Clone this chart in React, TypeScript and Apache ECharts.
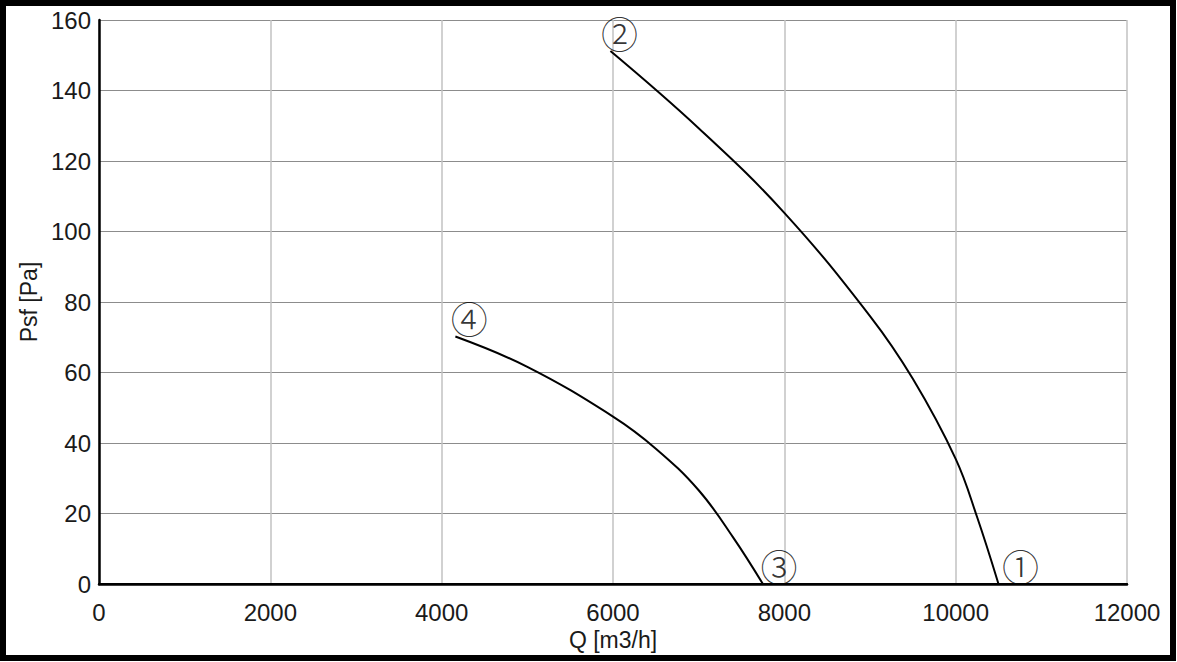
import React, { useEffect, useRef } from "react";
import * as echarts from "echarts";

// Fan curves: [Q m3/h, Psf Pa]
const curveHigh: [number, number][] = [
  [5970, 151.2],
  [7000, 129.3],
  [8000, 105.3],
  [9000, 76.0],
  [9500, 58.2],
  [10000, 35.5],
  [10250, 19.0],
  [10500, 0],
];

const curveLow: [number, number][] = [
  [4160, 70.2],
  [5000, 61.6],
  [6000, 47.5],
  [6500, 38.4],
  [7000, 26.6],
  [7400, 13.3],
  [7750, 0],
];

const markerNames = ["①", "②", "③", "④"];

const xTicks = { min: 0, max: 12000, interval: 2000 };
const yTicks = { min: 0, max: 160, interval: 20 };

export default function App() {
  const ref = useRef<HTMLDivElement>(null);

  useEffect(() => {
    if (!ref.current) return;
    const chart = echarts.init(ref.current, null, { renderer: "svg" });

    const markerPoints = [
      { value: curveHigh[curveHigh.length - 1], name: markerNames[0], offset: [22, 5] },
      { value: curveHigh[0], name: markerNames[1], offset: [9, 5] },
      { value: curveLow[curveLow.length - 1], name: markerNames[2], offset: [16, 5] },
      { value: curveLow[0], name: markerNames[3], offset: [14, 5] },
    ];

    const font = "'Liberation Sans', Arial, sans-serif";

    chart.setOption({
      animation: false,
      backgroundColor: "#ffffff",
      grid: { left: 99, top: 20, right: 50, bottom: 78, containLabel: false },
      graphic: [
        {
          type: "rect",
          shape: { x: 3, y: 3, width: 1170, height: 655 },
          style: { fill: "none", stroke: "#000", lineWidth: 6 },
          silent: true,
        },
      ],
      xAxis: [
        {
          type: "value",
          min: xTicks.min,
          max: xTicks.max,
          interval: xTicks.interval,
          name: "Q [m3/h]",
          nameLocation: "middle",
          nameGap: 41,
          nameTextStyle: { fontSize: 23, color: "#1a1a1a", fontFamily: font },
          axisLine: { show: true, lineStyle: { color: "#000", width: 2 } },
          axisTick: { show: false },
          axisLabel: {
            fontSize: 24,
            color: "#1a1a1a",
            fontFamily: font,
            margin: 16,
            formatter: (v: number) => String(v),
          },
          splitLine: { show: true, lineStyle: { color: "#c2c2c2", width: 1.5 } },
        },
        {
          type: "value",
          position: "top",
          min: xTicks.min,
          max: xTicks.max,
          interval: xTicks.interval,
          axisLine: { show: true, lineStyle: { color: "#000", width: 2.5 } },
          axisTick: { show: false },
          axisLabel: { show: false },
          splitLine: { show: false },
        },
      ],
      yAxis: [
        {
          type: "value",
          min: yTicks.min,
          max: yTicks.max,
          interval: yTicks.interval,
          name: "Psf [Pa]",
          nameLocation: "middle",
          nameGap: 56,
          nameTextStyle: { fontSize: 23, color: "#1a1a1a", fontFamily: font },
          axisLine: { show: true, lineStyle: { color: "#444", width: 1 } },
          axisTick: { show: false },
          axisLabel: {
            fontSize: 24,
            color: "#1a1a1a",
            fontFamily: font,
            margin: 8,
            formatter: (v: number) => String(v),
          },
          splitLine: { show: true, lineStyle: { color: "#8c8c8c", width: 1 } },
        },
        {
          type: "value",
          position: "right",
          min: yTicks.min,
          max: yTicks.max,
          interval: yTicks.interval,
          axisLine: { show: true, lineStyle: { color: "#000", width: 2.5 } },
          axisTick: { show: false },
          axisLabel: { show: false },
          splitLine: { show: false },
        },
      ],
      series: [
        {
          type: "line",
          data: curveHigh,
          smooth: 0.4,
          showSymbol: false,
          lineStyle: { color: "#000", width: 2 },
          z: 5,
        },
        {
          type: "line",
          data: curveLow,
          smooth: 0.4,
          showSymbol: false,
          lineStyle: { color: "#000", width: 2 },
          z: 5,
        },
        {
          type: "scatter",
          symbolSize: 0,
          data: markerPoints.map((m) => ({
            value: m.value,
            name: m.name,
            label: { offset: m.offset },
          })),
          label: {
            show: true,
            position: "top",
            formatter: (p: any) => p.name,
            fontSize: 37,
            fontWeight: 300,
            color: "#000",
            fontFamily: "'Noto Sans CJK JP', 'Noto Sans CJK SC', sans-serif",
          },
          z: 6,
        },
      ],
    });

    return () => chart.dispose();
  }, []);

  return (
    <div
      ref={ref}
      style={{ position: "fixed", left: 0, top: 0, width: 1177, height: 662, background: "#fff" }}
    />
  );
}
